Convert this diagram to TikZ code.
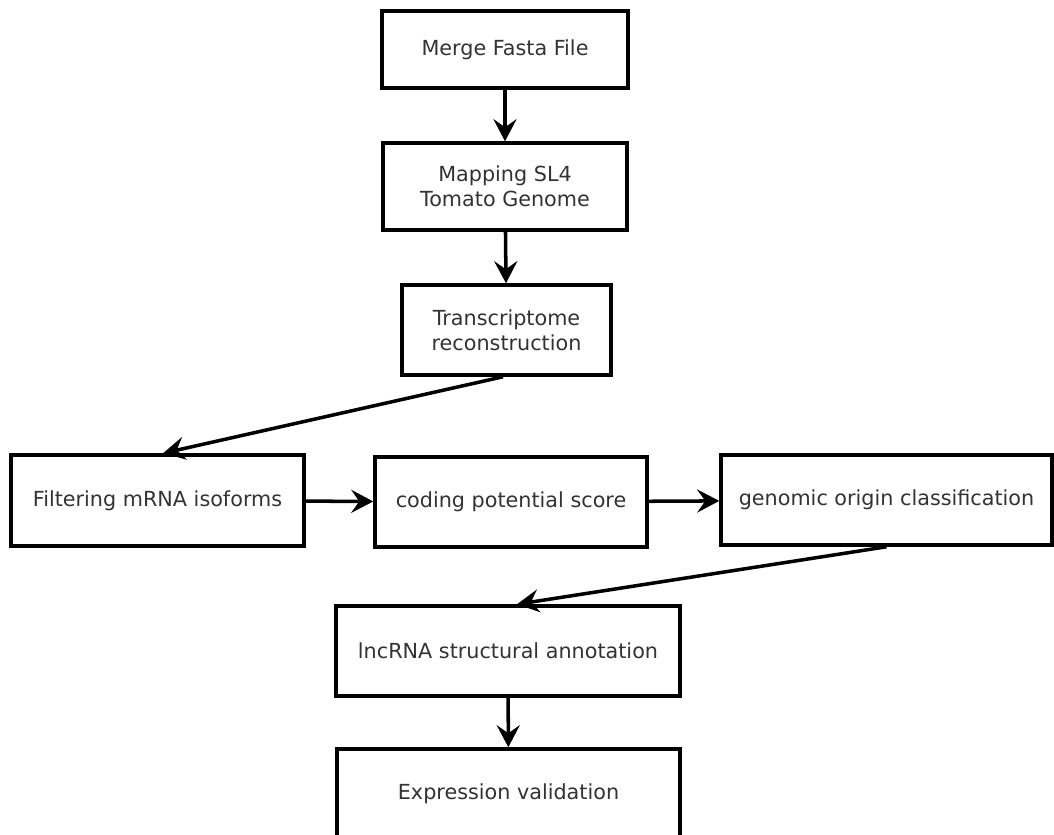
\documentclass[tikz,border=0pt]{standalone}
\usepackage{fontspec}
\setmainfont{DejaVu Sans}
\usetikzlibrary{arrows.meta, positioning}

\begin{document}
\begin{tikzpicture}[
    stage/.style={draw, line width=2pt, align=center, text=black!80, inner sep=0pt,
        font=\fontsize{11.8}{14.2}\selectfont},
    flow/.style={line width=2pt, -{Stealth[length=0.44cm, width=0.46cm, inset=0.16cm]}}]
        \useasboundingbox (0,0) rectangle (21.08,-16.68);
        \clip (0,0) rectangle (21.08,-16.68);

        % nodes
        \node[stage, minimum width=4.92cm, minimum height=1.54cm] (merge) at (10.10,-0.99) {Merge Fasta File};
        \node[stage, minimum width=4.88cm, minimum height=1.74cm] (map) at (10.10,-3.73) {Mapping SL4\\Tomato Genome};
        \node[stage, minimum width=4.18cm, minimum height=1.80cm] (trans) at (10.13,-6.60) {Transcriptome\\reconstruction};
        \node[stage, minimum width=5.86cm, minimum height=1.82cm] (filt) at (3.15,-10.01) {Filtering mRNA isoforms};
        \node[stage, minimum width=5.44cm, minimum height=1.80cm] (code) at (10.22,-10.04) {coding potential score};
        \node[stage, minimum width=6.62cm, minimum height=1.80cm] (origin) at (17.73,-10.00) {genomic origin classification};
        \node[stage, minimum width=6.88cm, minimum height=1.80cm] (lnc) at (10.16,-13.02) {lncRNA structural annotation};
        \node[stage, minimum width=6.86cm, minimum height=1.80cm] (expr) at (10.17,-15.88) {Expression validation};

        % edges
        \draw[flow] (merge) -- (map);
        \draw[flow] (map) -- (trans);
        \draw[flow] ([xshift=-0.07cm]trans.south) -- ([xshift=0.11cm]filt.north);
        \draw[flow] (filt) -- (code);
        \draw[flow] (code) -- (origin);
        \draw[flow] (origin.south) -- ([xshift=0.18cm]lnc.north);
        \draw[flow] (lnc) -- (expr);

    \end{tikzpicture}
\end{document}
